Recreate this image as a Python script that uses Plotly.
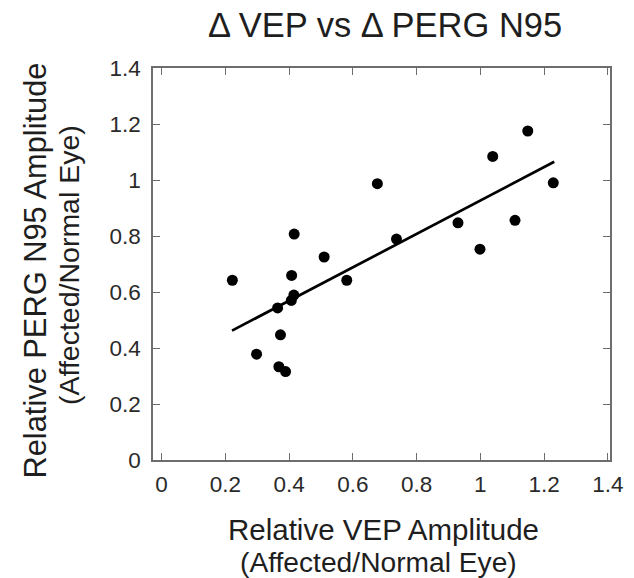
import plotly.graph_objects as go

# Relative VEP amplitude (affected/normal eye)
vep = [0.222, 0.298, 0.364, 0.373, 0.368, 0.389, 0.407, 0.415, 0.408, 0.416,
       0.510, 0.581, 0.677, 0.737, 0.930, 0.999, 1.039, 1.109, 1.149, 1.229]
# Relative PERG N95 amplitude (affected/normal eye)
perg = [0.642, 0.378, 0.543, 0.447, 0.333, 0.316, 0.570, 0.589, 0.659, 0.807,
        0.725, 0.642, 0.987, 0.789, 0.847, 0.753, 1.084, 0.856, 1.175, 0.990]
# regression line end points
fit_x = [0.221, 1.232]
fit_y = [0.462, 1.065]

tick_vals = [0, 0.2, 0.4, 0.6, 0.8, 1, 1.2, 1.4]
tick_text = ["0", "0.2", "0.4", "0.6", "0.8", "1", "1.2", "1.4"]

FONT = "Liberation Sans, Arial, sans-serif"
AX = "#6e6e6e"

fig = go.Figure()
fig.add_trace(go.Scatter(x=fit_x, y=fit_y, mode="lines",
                         line=dict(color="black", width=2.7), showlegend=False))
fig.add_trace(go.Scatter(x=vep, y=perg, mode="markers",
                         marker=dict(color="black", size=11), showlegend=False))

axis_common = dict(showgrid=False, zeroline=False, showline=True, mirror="ticks",
                   linecolor=AX, linewidth=1.5, ticks="inside", ticklen=7,
                   tickwidth=1.3, tickcolor=AX,
                   tickfont=dict(family=FONT, size=22.5, color="#2a2a2a"),
                   tickvals=tick_vals, ticktext=tick_text)

fig.update_xaxes(range=[-0.027, 1.407], ticklabelstandoff=3, **axis_common)
fig.update_yaxes(range=[0, 1.4], ticklabelstandoff=6, **axis_common)

L, R, T, B = 153, 24, 68, 118
W, H = 634, 578
pw, ph = W - L - R, H - T - B

def px(xp):
    return (xp - L) / pw

def py(yp):
    return (H - B - yp) / ph

ann = [
    dict(text="Δ VEP vs Δ PERG N95", x=px(384.5), y=py(25), size=34.5, angle=0),
    dict(text="Relative VEP Amplitude", x=px(383), y=py(529), size=29.5, angle=0),
    dict(text="(Affected/Normal Eye)", x=px(378.5), y=py(562), size=28.2, angle=0),
    dict(text="Relative PERG N95 Amplitude", x=px(35), y=py(270.5), size=30.8, angle=-90),
    dict(text="(Affected/Normal Eye)", x=px(69), y=py(265), size=28.5, angle=-90),
]
for a in ann:
    fig.add_annotation(text=a["text"], x=a["x"], y=a["y"], xref="paper", yref="paper",
                       xanchor="center", yanchor="middle", showarrow=False,
                       textangle=a["angle"],
                       font=dict(family=FONT, size=a["size"], color="#1e1e1e"))

fig.update_layout(width=W, height=H, margin=dict(l=L, r=R, t=T, b=B),
                  paper_bgcolor="white", plot_bgcolor="white")

fig.write_html("out.html", config={"displayModeBar": False},
               post_script="document.body.style.margin='0';")
